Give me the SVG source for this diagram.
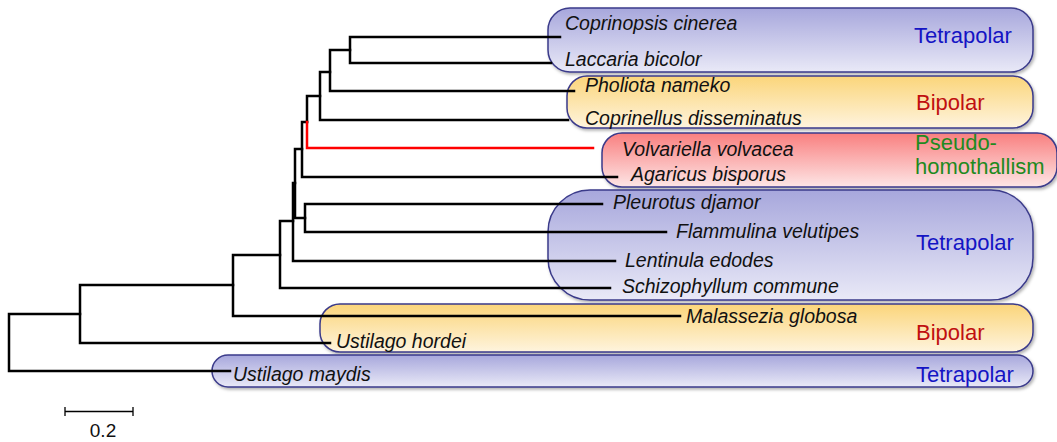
<svg xmlns="http://www.w3.org/2000/svg" width="1057" height="442" viewBox="0 0 1057 442">
<defs>
<linearGradient id="gT" x1="0" y1="0" x2="0" y2="1"><stop offset="0" stop-color="#a7a7dc"/><stop offset="1" stop-color="#e9e9f7"/></linearGradient>
<linearGradient id="gB" x1="0" y1="0" x2="0" y2="1"><stop offset="0" stop-color="#fbd57a"/><stop offset="1" stop-color="#fef4de"/></linearGradient>
<linearGradient id="gP" x1="0" y1="0" x2="0" y2="1"><stop offset="0" stop-color="#f97f7f"/><stop offset="1" stop-color="#fde6e6"/></linearGradient>
<filter id="sh" x="-5%" y="-20%" width="110%" height="150%"><feDropShadow dx="1.5" dy="2" stdDeviation="1.5" flood-color="#000" flood-opacity="0.3"/></filter>
</defs>
<style>
.box{stroke:#3a3a8a;stroke-width:1.5;filter:url(#sh)}
.t{fill:url(#gT)}.b{fill:url(#gB)}.p{fill:url(#gP)}
.cat{font-family:"Liberation Sans",Arial,sans-serif;font-size:22px}
.ct{fill:#1414c4}.cb{fill:#c01010}.cp{fill:#1f8a1f}
.sp{font-family:"Liberation Sans",Arial,sans-serif;font-size:19.5px;font-style:italic;fill:#111}
.br{fill:none;stroke:#000;stroke-width:2.5;stroke-linecap:square}
.red{stroke:#ff0000}
.sc{fill:none;stroke:#000;stroke-width:1.3}
.num{font-family:"Liberation Sans",Arial,sans-serif;font-size:19px;fill:#111}
</style>
<rect width="1057" height="442" fill="#fff"/>
<g id="box-tetrapolar-1"><rect class="box t" x="548" y="8" width="485" height="64" rx="22"/><text class="cat ct" x="914" y="43">Tetrapolar</text></g>
<g id="box-bipolar-1"><rect class="box b" x="567" y="76" width="466" height="52" rx="20"/><text class="cat cb" x="916" y="110">Bipolar</text></g>
<g id="box-pseudo"><rect class="box p" x="602" y="133" width="455" height="54" rx="20"/><text class="cat cp" x="915" y="150">Pseudo-</text><text class="cat cp" x="915" y="174">homothallism</text></g>
<g id="box-tetrapolar-2"><rect class="box t" x="548" y="190" width="485" height="110" rx="42"/><text class="cat ct" x="916" y="250">Tetrapolar</text></g>
<g id="box-bipolar-2"><rect class="box b" x="320" y="304" width="713" height="48" rx="20"/><text class="cat cb" x="916" y="340">Bipolar</text></g>
<g id="box-tetrapolar-3"><rect class="box t" x="212" y="355" width="821" height="32" rx="16"/><text class="cat ct" x="916" y="382">Tetrapolar</text></g>
<g id="connectors">
<path class="br" d="M80,314H9V371H230"/>
<path class="br" d="M233,285H80V343H330"/>
<path class="br" d="M280,255H233V316H680"/>
<path class="br" d="M293,221H280V288H610"/>
<path class="br" d="M295,183H293V261H615"/>
<path class="br" d="M302,149H295V218H305"/>
<path class="br" d="M602,204H305V232H666"/>
<path class="br" d="M307,122H302V177H617"/>
<path class="br" d="M320,96H307V122"/>
<path class="br red" d="M307,122V148H593"/>
<path class="br" d="M330,72H320V120H568"/>
<path class="br" d="M350,50H330V91H574"/>
<path class="br" d="M560,37H350V63H551"/>
</g>
<g id="leaf-coprinopsis"><text class="sp" x="565" y="30">Coprinopsis cinerea</text></g>
<g id="leaf-laccaria"><text class="sp" x="565" y="66">Laccaria bicolor</text></g>
<g id="leaf-pholiota"><text class="sp" x="585" y="92">Pholiota nameko</text></g>
<g id="leaf-coprinellus"><text class="sp" x="585" y="125">Coprinellus disseminatus</text></g>
<g id="leaf-volvariella"><text class="sp" x="622" y="156">Volvariella volvacea</text></g>
<g id="leaf-agaricus"><text class="sp" x="631" y="181">Agaricus bisporus</text></g>
<g id="leaf-pleurotus"><text class="sp" x="613" y="209">Pleurotus djamor</text></g>
<g id="leaf-flammulina"><text class="sp" x="676" y="238">Flammulina velutipes</text></g>
<g id="leaf-lentinula"><text class="sp" x="625" y="267">Lentinula edodes</text></g>
<g id="leaf-schizophyllum"><text class="sp" x="622" y="293">Schizophyllum commune</text></g>
<g id="leaf-malassezia"><text class="sp" x="686" y="323">Malassezia globosa</text></g>
<g id="leaf-ustilago-hordei"><text class="sp" x="336" y="348">Ustilago hordei</text></g>
<g id="leaf-ustilago-maydis"><text class="sp" x="233" y="381">Ustilago maydis</text></g>
<g id="scale-bar"><path class="sc" d="M65,411.5H133M65,407V416M133,407V416"/><text class="num" x="103" y="437" text-anchor="middle">0.2</text></g>
</svg>
